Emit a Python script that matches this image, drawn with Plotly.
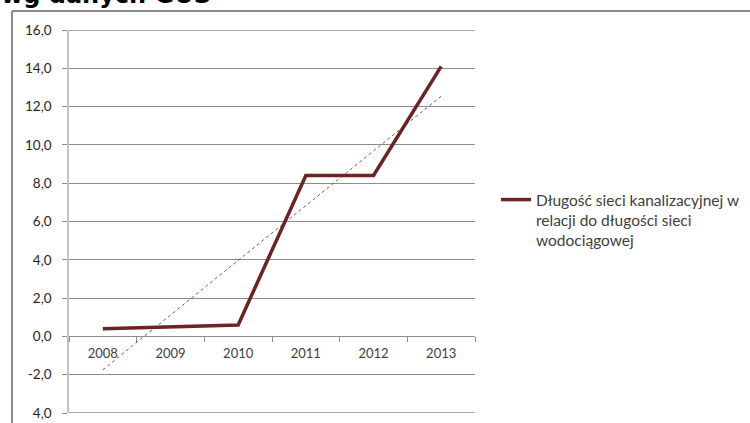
import numpy as np
import plotly.graph_objects as go

years = ["2008", "2009", "2010", "2011", "2012", "2013"]
values = [0.4, 0.5, 0.6, 8.4, 8.4, 14.1]
y_ticks = [-4, -2, 0, 2, 4, 6, 8, 10, 12, 14, 16]
y_tick_labels = ["4,0", "-2,0", "0,0", "2,0", "4,0", "6,0", "8,0", "10,0", "12,0", "14,0", "16,0"]
series_name = "Długość sieci kanalizacyjnej w<br>relacji do długości sieci<br>wodociągowej"
title_text = "wg danych GUS"

# linear trendline computed from the series
xi = np.arange(1, len(values) + 1)
slope, intercept = np.polyfit(xi, values, 1)
trend = list(slope * xi + intercept)

LINE_COLOR = "#6B2324"
GRID = "#8C8C8C"
FONT = "Lato"

fig = go.Figure()
fig.add_trace(go.Scatter(
    x=years, y=trend, mode="lines",
    line=dict(color="#8E4A4A", width=1, dash="dot"),
    showlegend=False, hoverinfo="skip",
))
fig.add_trace(go.Scatter(
    x=years, y=values, mode="lines", name=series_name,
    line=dict(color=LINE_COLOR, width=3.5),
))

W, H = 750, 423
L, R, T, B = 69, 275, 30, 10
pw, ph = W - L - R, H - T - B


def px_x(sx):
    return (sx - L) / pw


def px_y(sy):
    return (H - B - sy) / ph


y_min, y_max = y_ticks[0], y_ticks[-1]

fig.update_layout(
    width=W, height=H,
    margin=dict(l=L, r=R, t=T, b=B, pad=0, autoexpand=False),
    paper_bgcolor="white", plot_bgcolor="white",
    font=dict(family=FONT, size=13, color="#404040"),
    showlegend=True,
    legend=dict(
        x=px_x(496), xanchor="left", y=px_y(183), yanchor="top",
        font=dict(family=FONT, size=15.5, color="#404040"),
        bgcolor="rgba(0,0,0,0)", itemwidth=30, valign="top",
    ),
    xaxis=dict(
        type="category", categoryorder="array", categoryarray=years,
        anchor="free", position=(0 - y_min) / (y_max - y_min),
        showline=True, linecolor=GRID, linewidth=1,
        ticks="outside", ticklen=5, tickcolor=GRID, tickson="boundaries",
        showgrid=False, zeroline=False, ticklabelstandoff=5,
        tickfont=dict(family=FONT, size=13, color="#404040"),
        range=[-0.5, 5.5], automargin=False,
    ),
    yaxis=dict(
        range=[y_min, y_max], tickvals=y_ticks, ticktext=y_tick_labels,
        showgrid=True, gridcolor=GRID, gridwidth=1,
        showline=True, linecolor="#C4C4C4", linewidth=1.5,
        ticks="outside", ticklen=5, tickcolor=GRID,
        zeroline=False, ticklabelstandoff=8, automargin=False,
        tickfont=dict(family=FONT, size=13.5, color="#262626"),
    ),
)

# gridlines at the range edges (Plotly hides these)
for yv in (y_min, y_max):
    fig.add_shape(type="line", xref="paper", yref="y",
                  x0=0, x1=1, y0=yv, y1=yv,
                  line=dict(color=GRID, width=1.5), layer="below")

# outer chart frame (partially visible)
fig.add_shape(type="line", xref="paper", yref="paper",
              x0=px_x(12), x1=px_x(760), y0=px_y(11), y1=px_y(11),
              line=dict(color="#8A8A8A", width=2))
fig.add_shape(type="line", xref="paper", yref="paper",
              x0=px_x(12), x1=px_x(12), y0=px_y(11), y1=px_y(440),
              line=dict(color="#8A8A8A", width=2))

fig.add_annotation(
    text=title_text, xref="paper", yref="paper",
    x=px_x(-1), xanchor="left", y=px_y(-5), yanchor="middle",
    showarrow=False,
    font=dict(family="DejaVu Sans", size=24, color="black", weight="bold"),
)

fig.write_html("out.html", config={"displayModeBar": False},
               post_script="document.body.style.margin='0';")
